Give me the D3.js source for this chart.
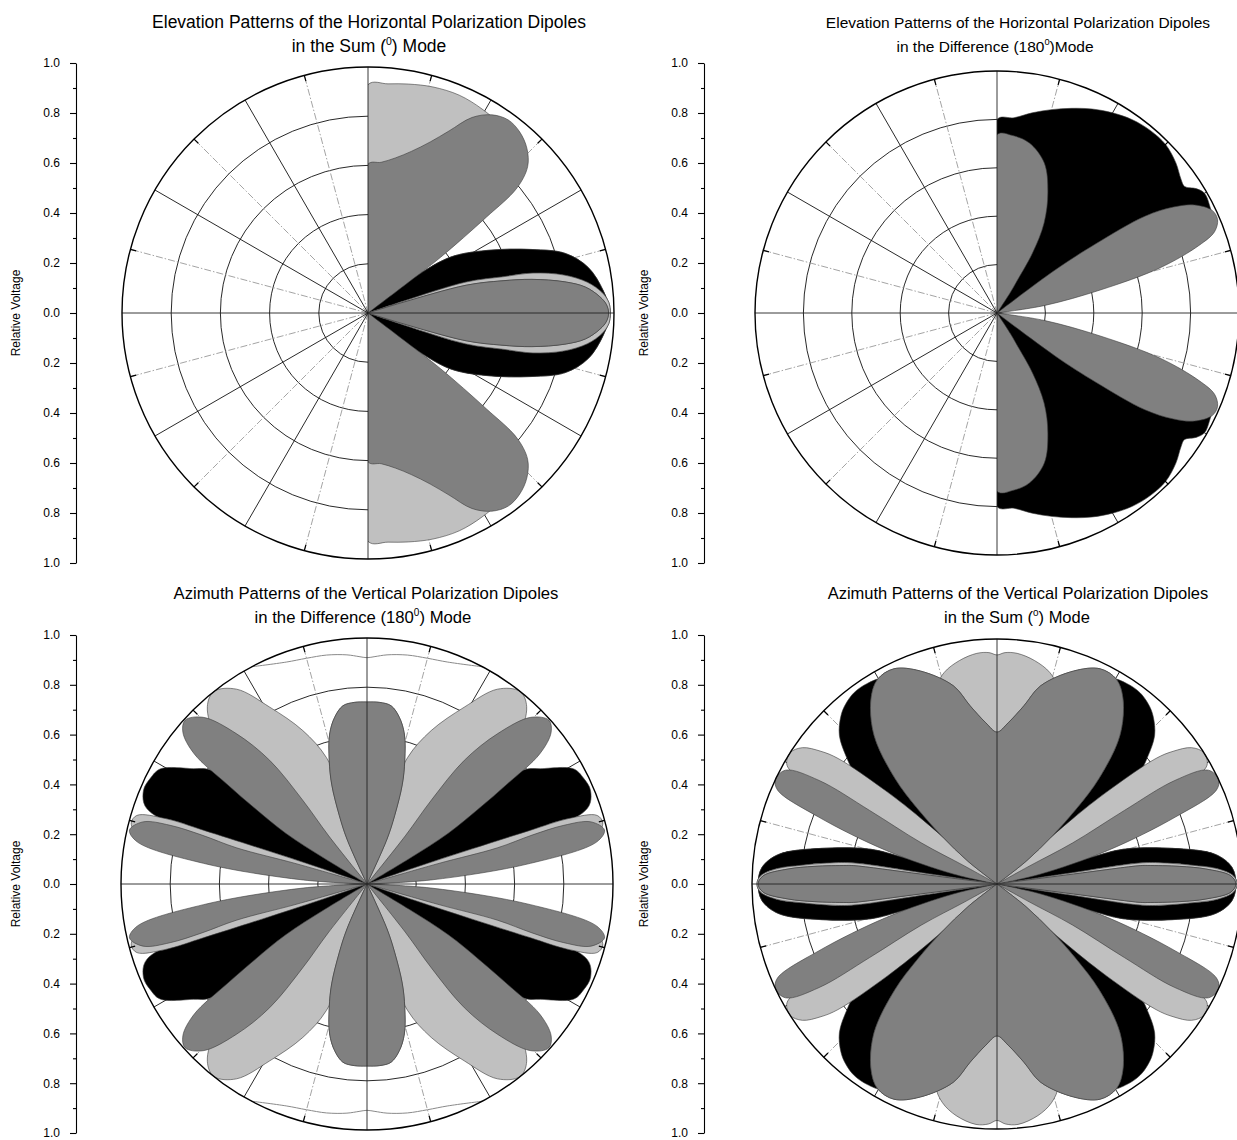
<!DOCTYPE html>
<html>
<head>
<meta charset="utf-8">
<script src="https://cdn.jsdelivr.net/npm/d3@7"></script>
<style>
  body { margin: 0; background: #fff; }
  svg { display: block; font-family: "Liberation Sans", Arial, sans-serif; }
</style>
</head>
<body>
<svg id="chart" width="1237" height="1140"></svg>
<script>
// ---- axis / grid values ----
const majorTicks = [1.0, 0.8, 0.6, 0.4, 0.2, 0.0, -0.2, -0.4, -0.6, -0.8, -1.0];
const minorTicks = [0.9, 0.7, 0.5, 0.3, 0.1, -0.1, -0.3, -0.5, -0.7, -0.9];
const gridRadii = [0.2, 0.4, 0.6, 0.8];
const solidSpokes = [30, 60, 120, 150, 210, 240, 300, 330];
const dashSpokes = [15, 45, 75, 105, 135, 165, 195, 225, 255, 285, 315, 345];

// ---- pattern lobes: [angle in degrees from +x, counter-clockwise; relative voltage] ----
// Elevation, horizontal dipoles, sum mode (upper half, mirrored below)
const elevSumBlack = [
  [[-42, 0], [-40, 0.15], [-38, 0.215], [-34.3, 0.4], [-27.9, 0.543], [-21.2, 0.714], [-16.8, 0.838],
   [-11.7, 0.914], [-5.5, 0.96], [0, 0.984], [5.5, 0.96], [11.7, 0.914], [16.8, 0.838], [21.2, 0.714],
   [27.9, 0.543], [34.3, 0.4], [38, 0.215], [40, 0.15], [42, 0]]
];
const elevSumLight = [
  [[-19, 0], [-18.5, 0.15], [-17.5, 0.42], [-15, 0.57], [-13.6, 0.69], [-11, 0.81], [-8, 0.9], [-5, 0.955],
   [-2.5, 0.98], [0, 0.985], [2.5, 0.98], [5, 0.955], [8, 0.9], [11, 0.81], [13.6, 0.69], [15, 0.57],
   [17.5, 0.42], [18.5, 0.15], [19, 0]],
  [[44, 0], [45, 0.5], [48, 0.8], [52, 0.9], [56, 0.936], [60.8, 0.95], [67.3, 0.96], [74, 0.956],
   [80, 0.945], [85, 0.935], [90, 0.928], [90, 0]]
];
const elevSumDark = [
  [[-17.5, 0], [-17, 0.135], [-15.8, 0.415], [-13.5, 0.56], [-11.6, 0.68], [-9, 0.81], [-6.8, 0.89],
   [-4, 0.945], [-2, 0.97], [0, 0.978], [2, 0.97], [4, 0.945], [6.8, 0.89], [9, 0.81], [11.6, 0.68],
   [13.5, 0.56], [15.8, 0.415], [17, 0.135], [17.5, 0]],
  [[37, 0], [37.2, 0.2], [37.5, 0.37], [39, 0.62], [40, 0.79], [42.5, 0.88], [46, 0.93], [50, 0.96],
   [54, 0.97], [58, 0.95], [62, 0.9], [66, 0.81], [70, 0.74], [75, 0.68], [80, 0.64], [85, 0.615],
   [90, 0.605], [90, 0]]
];

// Elevation, horizontal dipoles, difference mode
const elevDiffBlack = [
  [[12, 0], [13, 0.1], [15, 0.4], [18, 0.7], [21, 0.9], [24, 0.97], [27, 0.985], [30, 0.99], [32, 0.97],
   [34, 0.935], [36, 0.94], [40, 0.965], [45, 0.985], [50, 0.985], [55, 0.975], [60, 0.955], [65, 0.93],
   [70, 0.9], [75, 0.87], [80, 0.84], [85, 0.81], [90, 0.8], [90, 0]]
];
const elevDiffDark = [
  [[56, 0], [57, 0.1], [58, 0.15], [59.4, 0.29], [62.4, 0.42], [67.1, 0.54], [72.5, 0.65], [79.2, 0.715],
   [84.9, 0.736], [90, 0.737], [90, 0]],
  [[9, 0], [9, 0.2], [12.6, 0.44], [15.5, 0.7], [18.5, 0.88], [20.5, 0.96], [23, 0.99], [25.5, 0.985],
   [28.7, 0.93], [31, 0.85], [33.2, 0.73], [35, 0.5], [36.5, 0.3], [38, 0]]
];

// Azimuth, vertical dipoles, difference mode (first quadrant, mirrored to the others)
const azDiffBlack = [
  [[14, 0], [16, 0.6], [18.9, 0.946], [22.7, 0.985], [26, 0.98], [29.1, 0.962], [33.6, 0.847],
   [36, 0.79], [37, 0.6], [37.5, 0.2], [38, 0]]
];
const azDiffLight = [
  [[36, 0], [38, 0.3], [41, 0.6], [44, 0.85], [48, 0.97], [51.5, 1.0], [56.2, 0.953], [61.2, 0.82],
   [67.3, 0.676], [72.2, 0.54], [75, 0.35], [77, 0]],
  [[3, 0], [5, 0.3], [9, 0.7], [12, 0.95], [14.5, 0.99], [16.6, 0.976], [18, 0.86], [18.2, 0.7],
   [18.5, 0.45], [19, 0.2], [19.5, 0]]
];
const azDiffDark = [
  [[64, 0], [66, 0.2], [68, 0.3], [70.5, 0.43], [73, 0.525], [76, 0.628], [79, 0.69], [82.3, 0.731],
   [86, 0.74], [90, 0.74], [94, 0.74], [97.7, 0.731], [101, 0.69], [104, 0.628], [107, 0.525],
   [109.5, 0.43], [112, 0.3], [114, 0.2], [116, 0]],
  [[30, 0], [31, 0.2], [32, 0.39], [34, 0.55], [35.5, 0.7], [37, 0.88], [39.5, 0.97], [42, 0.995],
   [45.5, 0.95], [49, 0.81], [51.8, 0.64], [52.5, 0.43], [51.5, 0.25], [50, 0]],
  [[2, 0], [3.6, 0.26], [7.2, 0.67], [10.4, 0.95], [12.8, 0.99], [15.5, 0.945], [16.6, 0.835],
   [16.5, 0.7], [15.5, 0.55], [16, 0.3], [17, 0]]
];
const azDiffOutline = [
  [62, 1.0], [70, 0.96], [75, 0.95], [80, 0.945], [85, 0.935], [88, 0.925], [90, 0.92], [92, 0.925],
  [95, 0.935], [100, 0.945], [105, 0.95], [110, 0.96], [118, 1.0]
];

// Azimuth, vertical dipoles, sum mode
const azSumBlack = [
  [[28, 0], [31, 0.35], [35, 0.6], [38, 0.74], [40, 0.8], [43.3, 0.884], [47.2, 0.937], [50, 0.96],
   [53.3, 0.975], [57, 0.975], [60.8, 0.96], [63, 0.9], [65, 0.6], [66, 0]],
  [[-16.5, 0], [-16.2, 0.2], [-15.8, 0.395], [-15.4, 0.534], [-11.5, 0.73], [-7.7, 0.9], [-4, 0.962],
   [0, 0.975], [4, 0.962], [7.7, 0.9], [11.5, 0.73], [15.4, 0.534], [15.8, 0.395], [16.2, 0.2], [16.5, 0]]
];
const azSumLightTop = [
  [66, 0], [68, 0.4], [70, 0.7], [73, 0.84], [76, 0.89], [80.5, 0.925], [85, 0.945], [88, 0.945],
  [90, 0.935], [92, 0.945], [95, 0.945], [99.5, 0.925], [104, 0.89], [107, 0.84], [110, 0.7], [112, 0.4], [114, 0]
];
const azSumLightBottom = [
  [246, 0], [248, 0.4], [250, 0.7], [253, 0.86], [256, 0.92], [260, 0.96], [265, 0.985], [268, 0.98],
  [270, 0.965], [272, 0.98], [275, 0.985], [280, 0.96], [284, 0.92], [287, 0.86], [290, 0.7], [292, 0.4], [294, 0]
];
const azSumLight = [
  [[22, 0], [24, 0.4], [26, 0.7], [28, 0.9], [29.5, 0.985], [32.4, 1.0], [35, 0.97], [37, 0.9],
   [38.3, 0.827], [40, 0.585], [40.8, 0.413], [41, 0.2], [41.5, 0]],
  [[-8.7, 0], [-8.5, 0.3], [-8.3, 0.6], [-7, 0.7], [-5.5, 0.8], [-4, 0.9], [-2, 0.965], [0, 0.98],
   [2, 0.965], [4, 0.9], [5.5, 0.8], [7, 0.7], [8.3, 0.6], [8.5, 0.3], [8.7, 0]]
];
const azSumDark = [
  [[36, 0], [38, 0.15], [41, 0.3], [43.5, 0.45], [46, 0.6], [50.4, 0.787], [55.7, 0.913], [59.7, 0.967],
   [64.4, 0.974], [70.2, 0.924], [77.6, 0.828], [81.4, 0.736], [86, 0.66], [90, 0.62], [94, 0.66],
   [98.6, 0.736], [102.4, 0.828], [109.8, 0.924], [115.6, 0.974], [120.3, 0.967], [124.3, 0.913],
   [129.6, 0.787], [134, 0.6], [136.5, 0.45], [139, 0.3], [142, 0.15], [144, 0]],
  [[10, 0], [12.8, 0.18], [16.8, 0.47], [20.6, 0.78], [23.2, 0.975], [25.3, 1.0], [28.3, 0.98],
   [30.2, 0.84], [30, 0.6], [28.5, 0.35], [29, 0.15], [30, 0]],
  [[-7.5, 0], [-7.4, 0.315], [-7.3, 0.59], [-7, 0.62], [-5.5, 0.75], [-4.1, 0.855], [-2, 0.955],
   [0, 0.975], [2, 0.955], [4.1, 0.855], [5.5, 0.75], [7, 0.62], [7.3, 0.59], [7.4, 0.315], [7.5, 0]]
];

// ---- symmetry helpers (patterns are symmetric about the 0-180 and 90-270 lines) ----
const flipV = lobe => lobe.map(([a, r]) => [-a, r]);
const flipH = lobe => lobe.map(([a, r]) => [180 - a, r]);
const upDown = lobes => lobes.flatMap(l => [l, flipV(l)]);
const fourWay = lobes => upDown(lobes.flatMap(l => [l, flipH(l)]));

const panels = [
  {
    cx: 368, cy: 313, R: 246, A: 250, axisX: 76, half: true,
    title: { x1: 369, x2: 369, y: 28, size: 17.5, line1: "Elevation Patterns of the Horizontal Polarization Dipoles",
             pre: "in the Sum (", sup: "0", post: ") Mode" },
    layers: [upDown(elevSumBlack), upDown(elevSumLight), upDown(elevSumDark)]
  },
  {
    cx: 997, cy: 313, R: 242, A: 250, axisX: 704, half: true,
    title: { x1: 1018, x2: 995, y: 28, size: 15.5, line1: "Elevation Patterns of the Horizontal Polarization Dipoles",
             pre: "in the Difference (180", sup: "0", post: ")Mode" },
    layers: [upDown(elevDiffBlack), [], upDown(elevDiffDark)]
  },
  {
    cx: 367, cy: 884, R: 246, A: 249, axisX: 76, half: false,
    title: { x1: 366, x2: 363, y: 599, size: 16.7, line1: "Azimuth Patterns of the Vertical Polarization Dipoles",
             pre: "in the Difference (180", sup: "0", post: ") Mode" },
    layers: [fourWay(azDiffBlack), fourWay(azDiffLight), fourWay(azDiffDark)],
    outline: [azDiffOutline, flipV(azDiffOutline)]
  },
  {
    cx: 997, cy: 884, R: 245, A: 249, axisX: 704, half: false,
    title: { x1: 1018, x2: 1017, y: 599, size: 16.5, line1: "Azimuth Patterns of the Vertical Polarization Dipoles",
             pre: "in the Sum (", sup: "0", post: ") Mode" },
    layers: [fourWay(azSumBlack), [azSumLightTop, azSumLightBottom, ...fourWay(azSumLight)], fourWay(azSumDark)]
  }
];
const layerFills = ["#000000", "#c0c0c0", "#808080"];

const svg = d3.select("#chart");
const rad = d => d * Math.PI / 180;

panels.forEach((p, i) => {
  const r = d3.scaleLinear().domain([0, 1]).range([0, p.R]);
  const g = svg.append("g").attr("transform", `translate(${p.cx},${p.cy})`);

  // grid circles and spokes
  g.selectAll(".ring").data(gridRadii).join("circle")
    .attr("r", d => r(d)).attr("fill", "none").attr("stroke", "#111").attr("stroke-width", 0.9);
  g.selectAll(".dash").data(dashSpokes).join("line")
    .attr("x1", 0).attr("y1", 0)
    .attr("x2", d => r(1) * Math.cos(rad(d))).attr("y2", d => -r(1) * Math.sin(rad(d)))
    .attr("stroke", "#9a9a9a").attr("stroke-width", 0.9).attr("stroke-dasharray", "7,2,1.5,2");
  g.selectAll(".spoke").data(solidSpokes).join("line")
    .attr("x1", 0).attr("y1", 0)
    .attr("x2", d => r(1) * Math.cos(rad(d))).attr("y2", d => -r(1) * Math.sin(rad(d)))
    .attr("stroke", "#111").attr("stroke-width", 0.9);

  // filled patterns
  if (p.half) {
    svg.append("clipPath").attr("id", "half" + i)
      .append("rect").attr("x", 0).attr("y", -p.R - 5).attr("width", p.R + 5).attr("height", 2 * p.R + 10);
  }
  const lobeLine = d3.lineRadial()
    .angle(d => rad(90 - d[0]))
    .radius(d => r(d[1]))
    .curve(d3.curveCatmullRom.alpha(0.5));
  const pg = g.append("g").attr("clip-path", p.half ? `url(#half${i})` : null);
  p.layers.forEach((lobes, k) => {
    pg.append("g").selectAll("path").data(lobes).join("path")
      .attr("d", d => lobeLine(d) + "Z")
      .attr("fill", layerFills[k])
      .attr("stroke", "#3a3a3a").attr("stroke-width", 0.6);
  });
  if (p.outline) {
    g.selectAll(".outline").data(p.outline).join("path")
      .attr("d", d => lobeLine(d))
      .attr("fill", "none").attr("stroke", "#8a8a8a").attr("stroke-width", 1);
  }

  // main cross lines and outer circle on top
  g.append("line").attr("x1", -r(1)).attr("x2", r(1)).attr("y1", 0).attr("y2", 0)
    .attr("stroke", "#222").attr("stroke-width", 0.9);
  g.append("line").attr("y1", -r(1)).attr("y2", r(1)).attr("x1", 0).attr("x2", 0)
    .attr("stroke", "#222").attr("stroke-width", 0.9);
  g.append("circle").attr("r", r(1)).attr("fill", "none").attr("stroke", "#000").attr("stroke-width", 1.4);
  g.selectAll(".otick").data(dashSpokes).join("line")
    .attr("x1", d => r(1) * Math.cos(rad(d))).attr("y1", d => -r(1) * Math.sin(rad(d)))
    .attr("x2", d => (r(1) - 6) * Math.cos(rad(d))).attr("y2", d => -(r(1) - 6) * Math.sin(rad(d)))
    .attr("stroke", "#000").attr("stroke-width", 1.2);

  // left relative-voltage axis
  const y = d3.scaleLinear().domain([-1, 1]).range([p.cy + p.A, p.cy - p.A]);
  const fmt = d => Math.abs(d).toFixed(1);
  const ax = svg.append("g").attr("transform", `translate(${p.axisX},0)`);
  ax.call(d3.axisLeft(y).tickValues(majorTicks).tickFormat(fmt).tickSize(6).tickSizeOuter(0).tickPadding(10));
  ax.append("g").call(d3.axisLeft(y).tickValues(minorTicks).tickFormat("").tickSize(3).tickSizeOuter(0))
    .select(".domain").remove();
  ax.selectAll("text").attr("font-size", 12).attr("font-family", "Liberation Sans, Arial, sans-serif").attr("fill", "#000");
  ax.selectAll("line, path").attr("stroke", "#000").attr("stroke-width", 1.1);

  svg.append("text")
    .attr("transform", `translate(${p.axisX - 56},${p.cy}) rotate(-90)`)
    .attr("text-anchor", "middle").attr("font-size", 12)
    .text("Relative Voltage");

  // two-line title
  svg.append("text").attr("x", p.title.x1).attr("y", p.title.y)
    .attr("text-anchor", "middle").attr("font-size", p.title.size)
    .text(p.title.line1);
  const t2 = svg.append("text").attr("x", p.title.x2).attr("y", p.title.y + 24)
    .attr("text-anchor", "middle").attr("font-size", p.title.size);
  t2.append("tspan").text(p.title.pre);
  t2.append("tspan").attr("dy", -7).attr("font-size", p.title.size * 0.6).text(p.title.sup);
  t2.append("tspan").attr("dy", 7).text(p.title.post);
});
</script>
</body>
</html>
